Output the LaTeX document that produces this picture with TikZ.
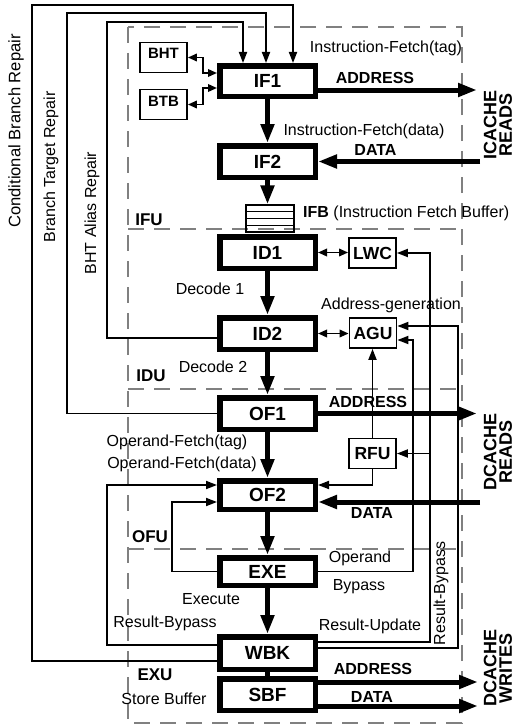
\documentclass[tikz,border=0pt]{standalone}
\usepackage{fontspec}
\setmainfont{Liberation Sans}
\usetikzlibrary{arrows.meta,calc}
\begin{document}
\begin{tikzpicture}[x=1pt, y=-1pt,
  stage/.style={draw, line width=5.5pt, minimum width=95.5pt, minimum height=31.5pt,
    inner sep=0pt, font=\bfseries\fontsize{19}{19}\selectfont},
  unit/.style={draw, line width=1.8pt, minimum width=47pt, minimum height=30pt,
    inner sep=0pt, font=\bfseries\fontsize{17.5}{17.5}\selectfont},
  pred/.style={unit, font=\bfseries\fontsize{15}{15}\selectfont,
    text height=11pt, text depth=8pt},
  lbl/.style={inner sep=0pt, font=\fontsize{16}{16}\selectfont},
  blbl/.style={inner sep=0pt, font=\bfseries\fontsize{16}{16}\selectfont},
  cache/.style={inner sep=0pt, rotate=90, align=center,
    font=\bfseries\fontsize{18}{15.5}\selectfont},
  bus/.style={line width=5pt, -{Triangle[length=19pt,width=13pt]}},
  wire/.style={line width=1.8pt},
  arr/.style={wire, -{Triangle[length=11pt,width=8pt]}},
  darr/.style={wire, {Triangle[length=9pt,width=7.5pt]}-{Triangle[length=9pt,width=7.5pt]}},
  region/.style={gray, line width=1.2pt, dash pattern=on 16pt off 10pt}]
  \useasboundingbox (0,0) rectangle (516,725);

  % unit boundaries
  \draw[region] (128,27) rectangle (462,723);
  \foreach \y in {229,389,549}
    \draw[region] (128,\y) -- (462,\y);
  \node[blbl, font=\bfseries\fontsize{17}{17}\selectfont] (ifu) at (149,220) {IFU};
  \node[blbl, font=\bfseries\fontsize{17}{17}\selectfont] (idu) at (151,376) {IDU};
  \node[blbl, font=\bfseries\fontsize{17}{17}\selectfont] (ofu) at (150,537) {OFU};
  \node[blbl, font=\bfseries\fontsize{17}{17}\selectfont] (exu) at (155,675) {EXU};

  % pipeline stages
  \node[stage, minimum height=30.5pt] (IF1) at (267.5,81) {IF1};
  \node[stage] (IF2) at (267.5,161.5) {IF2};
  \node[stage] (ID1) at (267.5,252.5) {ID1};
  \node[stage] (ID2) at (267.5,333.5) {ID2};
  \node[stage] (OF1) at (267.5,413.5) {OF1};
  \node[stage, minimum height=28.5pt] (OF2) at (267.5,495) {OF2};
  \node[stage, minimum height=27.5pt] (EXE) at (267.5,571.5) {EXE};
  \node[stage, minimum height=32.5pt] (WBK) at (267.5,653) {WBK};
  \node[stage] (SBF) at (267.5,694.5) {SBF};

  % instruction fetch buffer
  \node[draw, line width=1.2pt, minimum width=48pt, minimum height=27pt,
    inner sep=0pt] (IFB) at (270,218.5) {};
  \foreach \k in {1,2,3}
    \draw[line width=1.2pt] ($(IFB.north west)!\k/4!(IFB.south west)$)
      -- ($(IFB.north east)!\k/4!(IFB.south east)$);
  \node[lbl, anchor=west] (ifbtxt) at (303,213) {\textbf{IFB} (Instruction Fetch Buffer)};

  % side units
  \node[pred] (BHT) at (163.5,57.5) {BHT};
  \node[pred] (BTB) at (163.5,104.5) {BTB};
  \node[unit] (LWC) at (372.5,253) {LWC};
  \node[unit] (AGU) at (373,333) {AGU};
  \node[unit] (RFU) at (372.5,453.5) {RFU};

  % bus columns and ports
  \coordinate (opb) at (413,0);
  \coordinate (upd) at (430,0);
  \coordinate (byp) at (458,0);
  \coordinate (agu in1) at ($(AGU.east)+(0,-7)$);
  \coordinate (agu in2) at ($(AGU.east)+(0,7)$);
  \coordinate (of2 l1) at ($(OF2.west)+(0,-10)$);
  \coordinate (of2 l2) at ($(OF2.west)+(0,7)$);
  \coordinate (of2 r1) at ($(OF2.east)+(0,-10)$);
  \coordinate (of2 r2) at ($(OF2.east)+(0,7)$);
  \coordinate (ic addr) at (477,90);
  \coordinate (ic data) at (480,161.5);
  \coordinate (dr addr) at (477,413.5);
  \coordinate (dr data) at (480,502);
  \coordinate (dw addr) at (478,682);
  \coordinate (dw data) at (478,706);

  % repair paths
  \draw[arr] ($(WBK.west)+(0,8)$) -| (32,5) -| ($(IF1.north)+(25.5,0)$);
  \draw[arr] (OF1.west) -| (67,13) -| ($(IF1.north)+(-1.5,0)$);
  \draw[arr] ($(ID2.west)+(0,4.5)$) -| (107,22) -| ($(IF1.north)+(-24.5,0)$);
  \node[lbl, rotate=90, font=\fontsize{16.6}{16.6}\selectfont] (cbr) at (16,131) {Conditional Branch Repair};
  \node[lbl, rotate=90] (btr) at (51,167) {Branch Target Repair};
  \node[lbl, rotate=90] (bar) at (92,213) {BHT Alias Repair};

  % predictors
  \draw[darr] (BHT.east) -- ++(15,0) |- ($(IF1.west)+(0,-8)$);
  \draw[darr] (BTB.east) -- ++(15,0) |- ($(IF1.west)+(0,7)$);

  % bypass and update paths
  \draw[arr] ($(WBK.east)+(0,-11)$) -| (upd |- LWC.east) -- (LWC.east);
  \draw[arr] (upd |- RFU.east) -- (RFU.east);
  \draw[arr] ($(WBK.east)+(0,-5)$) -| (byp |- agu in1) -- (agu in1);
  \draw[arr] (EXE.east) -| (opb |- agu in2) -- (agu in2);
  \draw[arr] (EXE.west) -| ($(of2 l2)+(-45,0)$) -- (of2 l2);
  \draw[arr] ($(WBK.west)+(0,-8)$) -| ($(of2 l1)+(-110,0)$) -- (of2 l1);
  \draw[arr] (RFU.south) |- (of2 r1);
  \draw[arr] (RFU.north) -- (RFU.north |- AGU.south);
  \draw[darr] (ID1.east) -- (ID1.east -| LWC.west);
  \draw[darr] (ID2.east) -- (ID2.east -| AGU.west);

  % pipeline flow
  \draw[bus] (IF1) -- (IF2);
  \draw[bus] (IF2) -- (IF2 |- IFB.north);
  \draw[bus] (ID1) -- (ID2);
  \draw[bus] (ID2) -- (OF1);
  \draw[bus] (OF1) -- (OF2);
  \draw[bus] (OF2) -- (EXE);
  \draw[bus] (EXE) -- (WBK);
  \draw[line width=5pt] (WBK) -- (SBF);

  % cache ports
  \draw[bus] ($(IF1.east)+(0,9)$) -- (ic addr);
  \draw[bus] (ic data) -- (IF2.east);
  \draw[bus] (OF1.east) -- (dr addr);
  \draw[bus] (dr data) -- (of2 r2);
  \draw[bus] ($(SBF.east)+(0,-12.5)$) -- (dw addr);
  \draw[bus] ($(SBF.east)+(0,11.5)$) -- (dw data);
  \node[cache] (icache) at (498,125) {ICACHE\\READS};
  \node[cache] (dcread) at (498,452) {DCACHE\\READS};
  \node[cache] (dcwrite) at (498,668) {DCACHE\\WRITES};

  % labels
  \node[lbl] (iftag) at (386,48) {Instruction-Fetch(tag)};
  \node[blbl] (ifaddr) at (375,78) {ADDRESS};
  \node[lbl] (ifdata) at (364,131.7) {Instruction-Fetch(data)};
  \node[blbl] (icdata) at (375.5,150) {DATA};
  \node[lbl] (dec1) at (210,289) {Decode 1};
  \node[lbl] (agen) at (391,305) {Address-generation};
  \node[lbl] (dec2) at (213,367) {Decode 2};
  \node[blbl] (draddr) at (368,402) {ADDRESS};
  \node[lbl] (oftag) at (177,442) {Operand-Fetch(tag)};
  \node[lbl] (ofdata) at (182,464) {Operand-Fetch(data)};
  \node[blbl] (drdata) at (372,513) {DATA};
  \node[lbl] (opnd) at (360,558) {Operand};
  \node[lbl] (bpss) at (359,587) {Bypass};
  \node[lbl] (exec) at (211,599) {Execute};
  \node[lbl] (rbyp) at (165,623) {Result-Bypass};
  \node[lbl] (rupd) at (370,626) {Result-Update};
  \node[lbl, rotate=90] (rbyp2) at (441,593.5) {Result-Bypass};
  \node[blbl] (dwaddr) at (373,669) {ADDRESS};
  \node[blbl] (dwdata) at (372,697) {DATA};
  \node[lbl] (sbuf) at (164,699) {Store Buffer};
\end{tikzpicture}
\end{document}
